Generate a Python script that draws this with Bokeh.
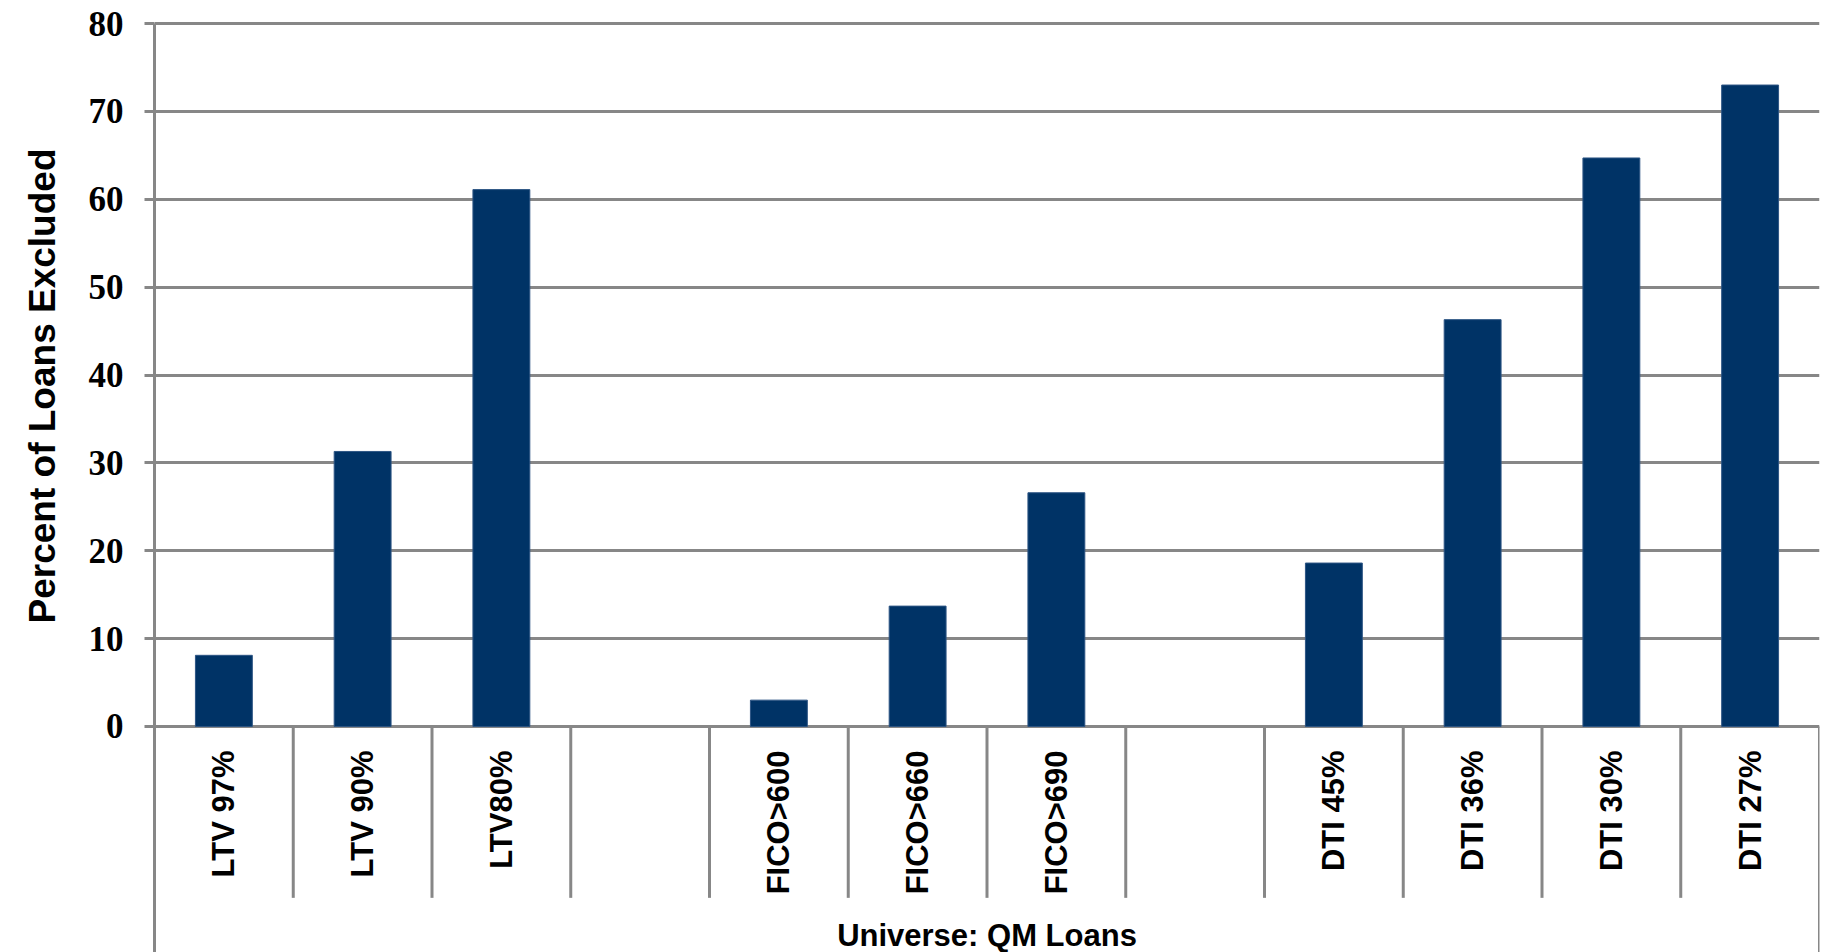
from math import pi

from bokeh.core.properties import value
from bokeh.embed import file_html
from bokeh.models import ColumnDataSource, FactorRange, FixedTicker, Label, Range1d, Title
from bokeh.plotting import figure
from bokeh.resources import INLINE
from bokeh.transform import dodge

# ---- data -------------------------------------------------------------
group_name = "Universe: QM Loans"
categories = [
    "LTV 97%", "LTV 90%", "LTV80%", " ",
    "FICO>600", "FICO>660", "FICO>690", "  ",
    "DTI 45%", "DTI 36%", "DTI 30%", "DTI 27%",
]
percent_excluded = [8.1, 31.3, 61.1, None, 3.0, 13.7, 26.6, None, 18.6, 46.3, 64.7, 73.0]
y_ticks = [0, 10, 20, 30, 40, 50, 60, 70, 80]
y_title = "Percent of Loans Excluded"

# ---- styling ----------------------------------------------------------
GRID = "#878787"
BAR = "#003366"
Y_MIN, Y_MAX = -25.72, 81.71   # lower part of the frame holds the category band
SEP_BOTTOM = -19.5             # where the short category separators stop

p = figure(
    width=1822, height=952,
    x_range=FactorRange(*categories),
    y_range=Range1d(Y_MIN, Y_MAX),
    x_axis_location=None,
    output_backend="svg",
    toolbar_location=None,
    min_border_left=154, min_border_right=3,
    min_border_top=8, min_border_bottom=0,
)
p.outline_line_color = None
p.background_fill_color = "white"
p.border_fill_color = "white"
p.xgrid.grid_line_color = None

ticker = FixedTicker(ticks=y_ticks)
p.yaxis.ticker = ticker
p.ygrid.ticker = ticker
p.ygrid.grid_line_color = GRID
p.ygrid.grid_line_width = 3

ax = p.yaxis[0]
ax.bounds = (Y_MIN, y_ticks[-1])
ax.axis_line_color = GRID
ax.axis_line_width = 3
ax.major_tick_line_color = GRID
ax.major_tick_line_width = 3
ax.major_tick_out = 10
ax.major_tick_in = 0
ax.minor_tick_line_color = None
ax.major_label_text_font = "Liberation Serif"
ax.major_label_text_font_style = "bold"
ax.major_label_text_font_size = "35px"
ax.major_label_text_color = "black"
ax.major_label_standoff = 21

# ---- bars -------------------------------------------------------------
bar_cats = [c for c, v in zip(categories, percent_excluded) if v is not None]
bar_vals = [v for v in percent_excluded if v is not None]
bars = ColumnDataSource(dict(cat=bar_cats, val=bar_vals))
p.vbar(x="cat", top="val", width=0.41, source=bars,
       fill_color=BAR, line_color="#2d5584", line_width=1)

# ---- category band: separators and rotated labels ---------------------
seps = ColumnDataSource(dict(cat=categories[:-1]))
p.segment(x0=dodge("cat", 0.5, range=p.x_range), y0=0,
          x1=dodge("cat", 0.5, range=p.x_range), y1=SEP_BOTTOM,
          source=seps, line_color=GRID, line_width=3)

edge = ColumnDataSource(dict(cat=categories[-1:]))
p.segment(x0=dodge("cat", 0.5, range=p.x_range), y0=0,
          x1=dodge("cat", 0.5, range=p.x_range), y1=Y_MIN,
          source=edge, line_color=GRID, line_width=3)

labels = ColumnDataSource(dict(cat=categories, txt=[c.strip() for c in categories]))
p.text(x="cat", y=0, text="txt", source=labels, angle=pi / 2,
       y_offset=24, text_align="right", text_baseline="middle",
       text_font=value("Liberation Sans"), text_font_style="bold",
       text_font_size="31px", text_color="black")

p.add_layout(Label(x=len(categories) / 2, y=-23.76, text=group_name,
                   text_align="center", text_baseline="alphabetic",
                   text_font="Liberation Sans", text_font_style="bold",
                   text_font_size="31px", text_color="black"))

# ---- y axis title -----------------------------------------------------
p.add_layout(Title(text=y_title, align="right", offset=140, standoff=41,
                   vertical_align="top",
                   text_font="Liberation Sans", text_font_style="bold",
                   text_font_size="37px", text_color="black"), "left")

open("out.html", "w").write(file_html(p, INLINE))
